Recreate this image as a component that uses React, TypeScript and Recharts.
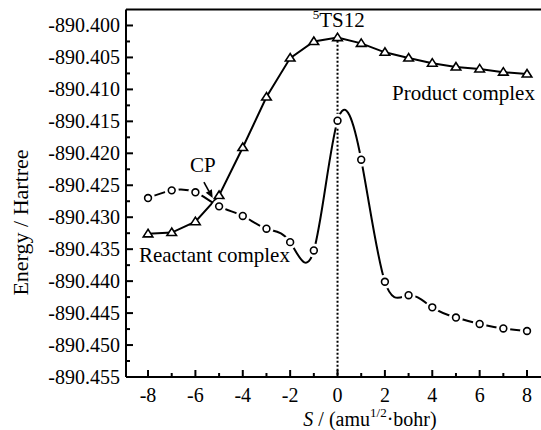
import React from 'react';
import { LineChart, Line, XAxis, YAxis, ReferenceLine, ReferenceDot } from 'recharts';

const sValues = [-8, -7, -6, -5, -4, -3, -2, -1, 0, 1, 2, 3, 4, 5, 6, 7, 8];
const triangleEnergy = [
  -890.4326, -890.4324, -890.4307, -890.4266, -890.4191, -890.4112, -890.4051, -890.4025,
  -890.4019, -890.4028, -890.4042, -890.4051, -890.4059, -890.4065, -890.4068, -890.4073, -890.4076,
];
const circleEnergy = [
  -890.4270, -890.4258, -890.4261, -890.4283, -890.4298, -890.4318, -890.4339, -890.4352,
  -890.4149, -890.4210, -890.4401, -890.4422, -890.4441, -890.4457, -890.4467, -890.4474, -890.4478,
];
const xTicks = [-8, -7, -6, -5, -4, -3, -2, -1, 0, 1, 2, 3, 4, 5, 6, 7, 8];
const xTickLabels = ['-8', '', '-6', '', '-4', '', '-2', '', '0', '', '2', '', '4', '', '6', '', '8'];
const yTicks = [
  -890.455, -890.4525, -890.45, -890.4475, -890.445, -890.4425, -890.44, -890.4375, -890.435,
  -890.4325, -890.43, -890.4275, -890.425, -890.4225, -890.42, -890.4175, -890.415, -890.4125,
  -890.41, -890.4075, -890.405, -890.4025, -890.4,
];
const yTickLabels = [
  '-890.455', '', '-890.450', '', '-890.445', '', '-890.440', '', '-890.435', '', '-890.430', '',
  '-890.425', '', '-890.420', '', '-890.415', '', '-890.410', '', '-890.405', '', '-890.400',
];
const xDomain = [-8.93, 8.59];
const yDomain = [-890.455, -890.3975];

const data = sValues.map((s, i) => ({ s, tri: triangleEnergy[i], circ: circleEnergy[i] }));

const FONT = '"Liberation Serif", "Times New Roman", serif';

const XTick = (props: any) => {
  const { x, y, index } = props;
  const label = xTickLabels[index];
  const major = label !== '';
  return (
    <g>
      <line x1={x} x2={x} y1={y} y2={y - (major ? 7 : 4)} stroke="#000" strokeWidth={2} />
      {major && (
        <text x={x} y={y + 18} textAnchor="middle" dominantBaseline="central" fontSize={20} fontFamily={FONT} fill="#000">
          {label}
        </text>
      )}
    </g>
  );
};

const YTick = (props: any) => {
  const { x, y, index } = props;
  const label = yTickLabels[index];
  const major = label !== '';
  return (
    <g>
      <line x1={x} x2={x + (major ? 7 : 4)} y1={y} y2={y} stroke="#000" strokeWidth={2} />
      {major && (
        <text x={x - 6} y={y} textAnchor="end" dominantBaseline="central" fontSize={20} fontFamily={FONT} fill="#000">
          {label}
        </text>
      )}
    </g>
  );
};

const CircleDot = (props: any) => {
  const { cx, cy } = props;
  if (cx == null || cy == null) return <g />;
  return (
    <g>
      <circle cx={cx} cy={cy} r={7} fill="#fff" stroke="none" />
      <circle cx={cx} cy={cy} r={3.4} fill="#fff" stroke="#000" strokeWidth={1.6} />
    </g>
  );
};

const TriangleDot = (props: any) => {
  const { cx, cy } = props;
  if (cx == null || cy == null) return <g />;
  const pts = `${cx},${cy - 4.5} ${cx - 4.8},${cy + 3} ${cx + 4.8},${cy + 3}`;
  return <polygon points={pts} fill="#fff" stroke="#000" strokeWidth={1.6} strokeLinejoin="miter" />;
};

const textShape = (content: React.ReactNode, anchor: string) => (p: any) => (
  <text x={p.cx} y={p.cy} textAnchor={anchor} fontSize={21} fontFamily={FONT} fill="#000">
    {content}
  </text>
);

const arrowShape = (p: any) => {
  const { x1, y1, x2, y2 } = p;
  const ang = Math.atan2(y2 - y1, x2 - x1);
  const L = 8;
  const W = 3.5;
  const bx = x2 - L * Math.cos(ang);
  const by = y2 - L * Math.sin(ang);
  const px = -Math.sin(ang) * W;
  const py = Math.cos(ang) * W;
  return (
    <g>
      <line x1={x1} y1={y1} x2={bx} y2={by} stroke="#000" strokeWidth={1.6} />
      <polygon points={`${x2},${y2} ${bx + px},${by + py} ${bx - px},${by - py}`} fill="#000" />
    </g>
  );
};

export default function App() {
  return (
    <div style={{ position: 'absolute', left: 0, top: 0, width: 541, height: 430, background: '#fff' }}>
      <LineChart width={541} height={430} data={data} margin={{ top: 9.5, right: 0, bottom: 0, left: 0 }}>
        <XAxis
          dataKey="s"
          type="number"
          domain={xDomain}
          ticks={xTicks}
          interval={0}
          tickSize={0}
          tickMargin={0}
          tick={XTick}
          height={53}
          axisLine={{ stroke: '#000', strokeWidth: 2 }}
          allowDataOverflow
          label={{
            content: (lp: any) => {
              const vb = lp.viewBox;
              return (
                <text x={vb.x + 244} y={vb.y + 42} textAnchor="middle" dominantBaseline="central" fontSize={20} fontFamily={FONT} fill="#000">
                  <tspan fontStyle="italic">S</tspan>
                  <tspan> / (amu</tspan>
                  <tspan fontSize={13} dy={-7}>1/2</tspan>
                  <tspan dy={7}>·bohr)</tspan>
                </text>
              );
            },
          }}
        />
        <YAxis
          type="number"
          domain={yDomain}
          ticks={yTicks}
          interval={0}
          tickSize={0}
          tickMargin={0}
          tick={YTick}
          width={126}
          axisLine={{ stroke: '#000', strokeWidth: 2 }}
          allowDataOverflow
          label={{
            content: (lp: any) => {
              const vb = lp.viewBox;
              const cx = vb.x + 20;
              const cy = vb.y + 213;
              return (
                <text x={cx} y={cy} transform={`rotate(-90 ${cx} ${cy})`} textAnchor="middle" dominantBaseline="central" fontSize={22} fontFamily={FONT} fill="#000">
                  Energy / Hartree
                </text>
              );
            },
          }}
        />
        <ReferenceLine y={yDomain[1]} stroke="#000" strokeWidth={2} />
        <ReferenceLine
          segment={[{ x: 0, y: -890.4024 }, { x: 0, y: -890.455 }]}
          stroke="#000"
          strokeWidth={2}
          strokeDasharray="2 2"
        />
        <Line
          dataKey="tri"
          type="linear"
          stroke="#000"
          strokeWidth={2}
          dot={(p: any) => <TriangleDot key={`t-${p.index}`} {...p} />}
          activeDot={false}
          isAnimationActive={false}
        />
        <Line
          dataKey="circ"
          type="natural"
          stroke="#000"
          strokeWidth={2}
          dot={(p: any) => <CircleDot key={`c-${p.index}`} {...p} />}
          activeDot={false}
          isAnimationActive={false}
        />
        <ReferenceLine segment={[{ x: -5.64, y: -890.4245 }, { x: -5.27, y: -890.4270 }]} shape={arrowShape} />
        <ReferenceDot
          x={-1.05}
          y={-890.4003}
          r={0}
          shape={textShape(
            <>
              <tspan fontSize={13} dy={-8}>5</tspan>
              <tspan dy={8}>TS12</tspan>
            </>,
            'start'
          )}
        />
        <ReferenceDot x={2.3} y={-890.4117} r={0} shape={textShape('Product complex', 'start')} />
        <ReferenceDot x={-6.23} y={-890.423} r={0} shape={textShape('CP', 'start')} />
        <ReferenceDot x={-2.01} y={-890.437} r={0} shape={textShape('Reactant complex', 'end')} />
      </LineChart>
    </div>
  );
}
